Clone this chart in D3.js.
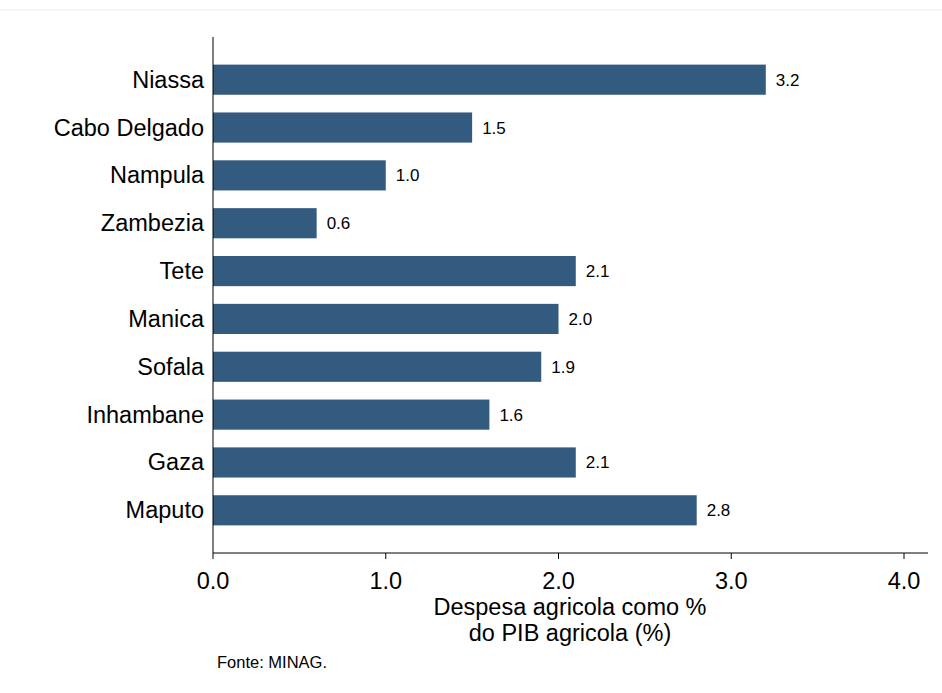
<!DOCTYPE html><html><head><meta charset="utf-8"><script src="https://cdn.jsdelivr.net/npm/d3@7"></script>
<style>body{margin:0;background:#fff}svg text{font-family:"Liberation Sans",Arial,sans-serif}</style></head><body>
<svg id="c" width="942" height="693"></svg>
<script>
const categories=["Niassa","Cabo Delgado","Nampula","Zambezia","Tete","Manica","Sofala","Inhambane","Gaza","Maputo"];
const values=[3.2,1.5,1.0,0.6,2.1,2.0,1.9,1.6,2.1,2.8];
const ticks=[0,1,2,3,4];
const svg=d3.select("#c");
svg.append("line").attr("x1",0).attr("x2",942).attr("y1",10).attr("y2",10).attr("stroke","#eee");
const x=d3.scaleLinear().domain([0,4]).range([213,904]);
const y=d3.scaleBand().domain(categories).range([56,534]).paddingInner(0.37).paddingOuter(0.18);
svg.selectAll("rect").data(values).join("rect").attr("x",x(0)).attr("y",(d,i)=>y(categories[i])).attr("width",d=>x(d)-x(0)).attr("height",y.bandwidth()).attr("fill","#335a7f");
svg.selectAll(".v").data(values).join("text").attr("x",d=>x(d)+10).attr("y",(d,i)=>y(categories[i])+y.bandwidth()/2+6).attr("font-size",17).text(d=>d.toFixed(1));
svg.selectAll(".c").data(categories).join("text").attr("x",204).attr("y",d=>y(d)+y.bandwidth()/2+8).attr("text-anchor","end").attr("font-size",23.5).text(d=>d);
svg.append("line").attr("x1",213).attr("x2",213).attr("y1",37).attr("y2",553).attr("stroke","#000");
svg.append("line").attr("x1",213).attr("x2",928).attr("y1",553).attr("y2",553).attr("stroke","#000");
ticks.forEach(t=>{svg.append("line").attr("x1",x(t)).attr("x2",x(t)).attr("y1",553).attr("y2",559).attr("stroke","#000");
svg.append("text").attr("x",x(t)).attr("y",589).attr("text-anchor","middle").attr("font-size",23.5).text(t.toFixed(1));});
svg.append("text").attr("x",570).attr("y",615).attr("text-anchor","middle").attr("font-size",23.5).text("Despesa agricola como %");
svg.append("text").attr("x",570).attr("y",641).attr("text-anchor","middle").attr("font-size",23.5).text("do PIB agricola (%)");
svg.append("text").attr("x",217).attr("y",668).attr("font-size",16.5).text("Fonte: MINAG.");
</script></body></html>
